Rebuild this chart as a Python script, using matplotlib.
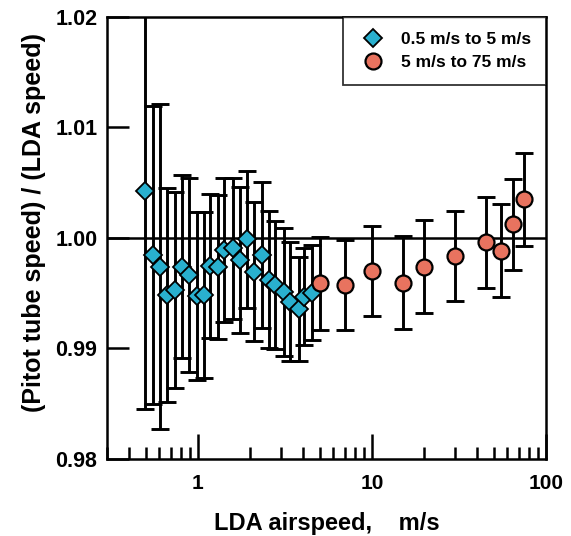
import matplotlib
matplotlib.use('Agg')
import matplotlib.pyplot as plt
from matplotlib.ticker import LogLocator, FixedLocator, FuncFormatter

plt.rcParams['font.family'] = ['Liberation Sans', 'DejaVu Sans']
plt.rcParams['font.weight'] = 'bold'

# 0.5 m/s to 5 m/s (diamonds)
low_speed = [0.499, 0.553, 0.609, 0.665, 0.742, 0.811, 0.894, 0.989, 1.080, 1.180,
             1.300, 1.420, 1.585, 1.755, 1.918, 2.112, 2.339, 2.553, 2.789, 3.112,
             3.401, 3.796, 4.094, 4.532]
low_ratio = [1.00428, 0.99846, 0.99740, 0.99484, 0.99529, 0.99740, 0.99665, 0.99478,
             0.99484, 0.99749, 0.99740, 0.99891, 0.99907, 0.99801, 0.99988, 0.99695,
             0.99846, 0.99620, 0.99575, 0.99514, 0.99424, 0.99355, 0.99469, 0.99505]
low_err = [0.0198, 0.0135, 0.0147, 0.0097, 0.0089, 0.0083, 0.0088, 0.0076, 0.0075,
           0.0065, 0.0065, 0.0065, 0.0064, 0.0066, 0.0062, 0.0063, 0.0066, 0.0062,
           0.0058, 0.0058, 0.0054, 0.0047, 0.0044, 0.0043]

# 5 m/s to 75 m/s (circles)
high_speed = [5, 7, 10, 15, 20, 30, 45, 55, 65, 75]
high_ratio = [0.9959, 0.99575, 0.9970, 0.99596, 0.9974, 0.99837, 0.99961, 0.99885,
              1.00124, 1.0035]
high_err = [0.0042, 0.0041, 0.0041, 0.0042, 0.0042, 0.0041, 0.0041, 0.0042, 0.0041, 0.0042]

fig = plt.figure(figsize=(5.71, 5.36), dpi=100)
ax = fig.add_axes([0.1874, 0.1437, 0.7686, 0.8246])

ax.axhline(1.0, color='black', lw=1.8, zorder=1)

ax.errorbar(low_speed, low_ratio, yerr=low_err, fmt='none', ecolor='black',
            elinewidth=2.1, capsize=6.5, capthick=2.1, zorder=2)
ax.errorbar(high_speed, high_ratio, yerr=high_err, fmt='none', ecolor='black',
            elinewidth=2.1, capsize=6.5, capthick=2.1, zorder=2)
ax.plot(low_speed, low_ratio, 'D', ms=9, mfc='#29B0CF', mec='black', mew=1.3,
        label='0.5 m/s to 5 m/s', zorder=3)
ax.plot(high_speed, high_ratio, 'o', ms=11.5, mfc='#E8735F', mec='black', mew=1.6,
        label='5 m/s to 75 m/s', zorder=3)

ax.set_xscale('log')
ax.set_xlim(0.3, 100)
ax.set_ylim(0.98, 1.02)
ax.yaxis.set_major_locator(FixedLocator([0.98, 0.99, 1.00, 1.01, 1.02]))
ax.yaxis.set_major_formatter(FuncFormatter(lambda v, p: '{:.2f}'.format(v)))
ax.xaxis.set_major_locator(FixedLocator([1, 10, 100]))
ax.xaxis.set_major_formatter(FuncFormatter(lambda v, p: '{:g}'.format(v)))
ax.xaxis.set_minor_locator(LogLocator(base=10, subs=range(2, 10)))
ax.xaxis.set_minor_formatter(FuncFormatter(lambda v, p: ''))

ax.tick_params(axis='x', which='major', direction='in', length=18, width=1.8,
               labelsize=15, pad=11)
ax.tick_params(axis='x', which='minor', direction='in', length=9, width=1.8)
ax.tick_params(axis='y', which='major', direction='in', length=16, width=1.8,
               labelsize=15.5, pad=7)
for s in ax.spines.values():
    s.set_linewidth(1.8)

ax.set_xlabel('LDA airspeed,    m/s', fontsize=17, fontweight='bold')
ax.xaxis.set_label_coords(0.5, -0.12)
ax.set_ylabel('(Pitot tube speed) / (LDA speed)', fontsize=18, fontweight='bold')
ax.yaxis.set_label_coords(-0.138, 0.535)

leg = ax.legend(loc='upper right', bbox_to_anchor=(1.0, 1.0), fontsize=12.5,
                frameon=True, fancybox=False, borderaxespad=0, handletextpad=0.7,
                borderpad=0.85, labelspacing=0.45, handlelength=1.8)
leg.get_frame().set_edgecolor('black')
leg.get_frame().set_linewidth(1.3)

plt.savefig('out.png', dpi=100)
